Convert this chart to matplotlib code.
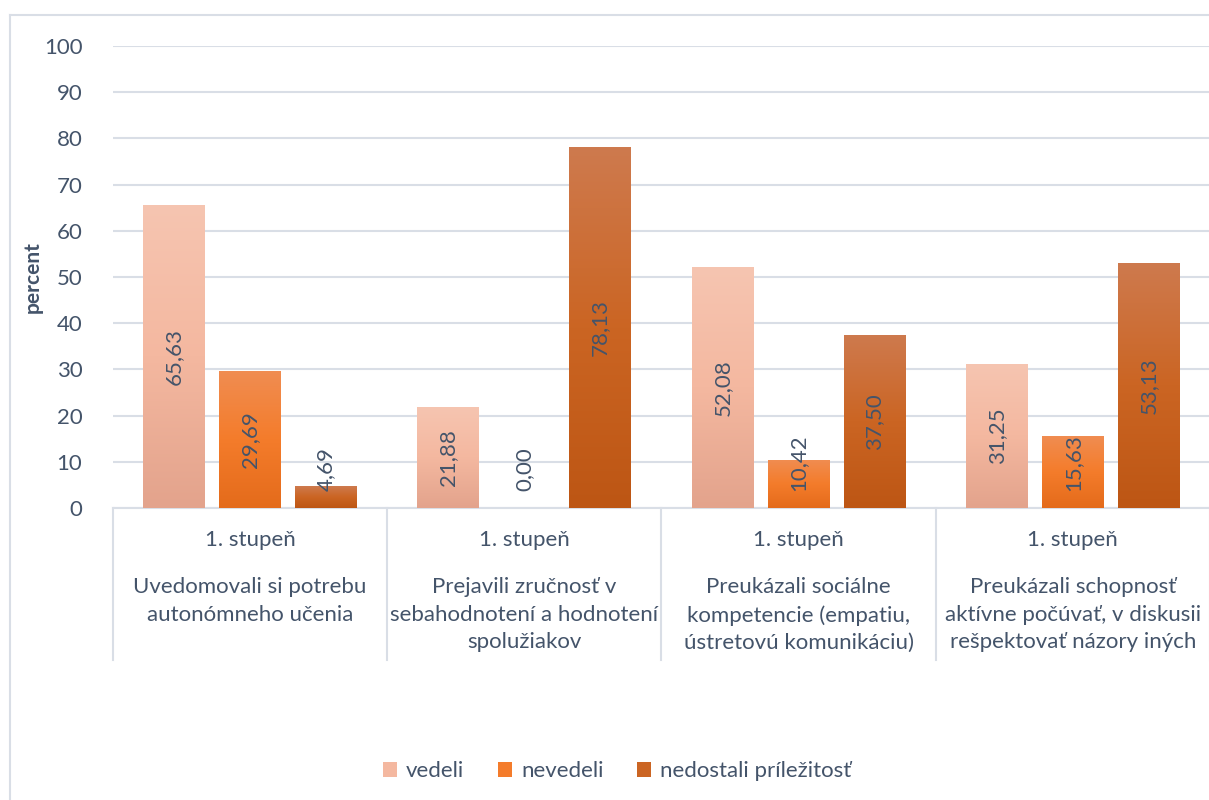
import matplotlib
matplotlib.use("Agg")
import matplotlib.pyplot as plt
import numpy as np
from matplotlib.colors import LinearSegmentedColormap
from matplotlib.lines import Line2D
from matplotlib.patches import Patch

plt.rcParams['font.family'] = ['Lato', 'DejaVu Sans']

series = ['vedeli', 'nevedeli', 'nedostali príležitosť']
vedeli = [65.63, 21.88, 52.08, 31.25]
nevedeli = [29.69, 0.00, 10.42, 15.63]
nedostali = [4.69, 78.13, 37.50, 53.13]
level1 = ['1. stupeň'] * 4
categories = [
    'Uvedomovali si potrebu\nautonómneho učenia',
    'Prejavili zručnosť v\nsebahodnotení a hodnotení\nspolužiakov',
    'Preukázali sociálne\nkompetencie (empatiu,\nústretovú komunikáciu)',
    'Preukázali schopnosť\naktívne počúvať, v diskusii\nrešpektovať názory iných',
]

# top, middle, bottom colours of each bar gradient
grads = [
    ['#F6C5B1', '#F4B8A0', '#E3A38C'],
    ['#F08D52', '#F47C2B', '#E46B1B'],
    ['#CE7A4E', '#CB6523', '#BD5614'],
]
text_col = '#44546A'
grid_col = '#D9DEE6'
fs = 16

W, H = 1209, 800
fig = plt.figure(figsize=(W / 100, H / 100), dpi=100)
ax = fig.add_axes([113 / W, (H - 508) / H, 1097 / W, 462 / H])

x = np.arange(len(categories))
width = 0.226
offset = 0.277
data = [vedeli, nevedeli, nedostali]

for k, vals in enumerate(data):
    cmap = LinearSegmentedColormap.from_list('g%d' % k, grads[k][::-1])
    bars = ax.bar(x + (k - 1) * offset, vals, width, color=grads[k][1], zorder=2)
    for b, v in zip(bars, vals):
        if v > 0:
            bx, bw = b.get_x(), b.get_width()
            img = ax.imshow(np.linspace(0, 1, 256).reshape(-1, 1), cmap=cmap,
                            origin='lower', aspect='auto',
                            extent=[bx, bx + bw, 0, v], zorder=3)
            img.set_clip_path(b)
        lab = ('%.2f' % v).replace('.', ',')
        cx = b.get_x() + b.get_width() / 2
        if v >= 19:
            ax.text(cx, v / 2, lab, rotation=90, ha='center', va='center',
                    fontsize=fs, color=text_col, zorder=4)
        else:
            ax.text(cx, 3.7, lab, rotation=90, ha='center', va='bottom',
                    fontsize=fs, color=text_col, zorder=4)

ax.set_xlim(-0.5, 3.5)
ax.set_ylim(0, 100)
ax.set_yticks(range(0, 101, 10))
ax.set_xticks([])
ax.yaxis.grid(True, color=grid_col, lw=1.5, zorder=0)
ax.set_axisbelow(True)
for s in ['top', 'right', 'left']:
    ax.spines[s].set_visible(False)
ax.spines['bottom'].set_color(grid_col)
ax.spines['bottom'].set_linewidth(1.5)
ax.tick_params(axis='y', length=0, pad=22, labelsize=fs, labelcolor=text_col)
ax.set_ylabel('percent', fontsize=15, fontweight='bold', color=text_col)
ax.yaxis.set_label_coords(-70 / 1097, 0.5)

# multi-level category axis below the plot
for i in range(len(categories)):
    ax.text(x[i], -32 / 462, level1[i], transform=ax.get_xaxis_transform(),
            ha='center', va='center', fontsize=fs, color=text_col)
    ax.text(x[i], -69 / 462, categories[i], transform=ax.get_xaxis_transform(),
            ha='center', va='top', fontsize=fs, color=text_col, linespacing=1.48)
for xs in np.arange(-0.5, 3.6, 1.0):
    ax.add_line(Line2D([xs, xs], [0, -152 / 462], transform=ax.get_xaxis_transform(),
                       color=grid_col, lw=1.5, clip_on=False))

# chart border
fig.add_artist(Line2D([10 / W, 10 / W], [0, 1 - 15 / H], color=grid_col, lw=1.5))
fig.add_artist(Line2D([10 / W, 1], [1 - 15 / H, 1 - 15 / H], color=grid_col, lw=1.5))

handles = [Patch(facecolor=grads[k][1], edgecolor='none') for k in range(3)]
leg = fig.legend(handles, series, loc='center', bbox_to_anchor=(617 / W, 1 - 771 / H),
                 ncol=3, frameon=False, fontsize=fs, handlelength=0.65, handleheight=0.65,
                 handletextpad=0.4, columnspacing=1.5)
for t in leg.get_texts():
    t.set_color(text_col)

fig.savefig('out.png', dpi=100)
